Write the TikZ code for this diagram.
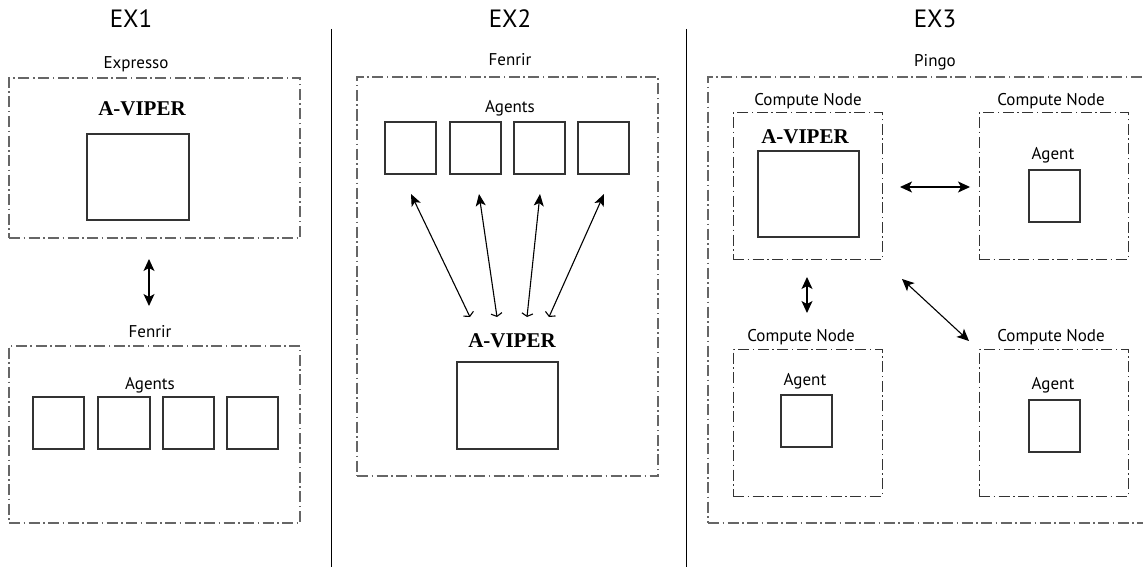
\documentclass[tikz,border=0pt]{standalone}
\usepackage{fontspec}
\setmainfont{Liberation Serif}
\newfontfamily\lblfont{PT Sans}
\usetikzlibrary{fit,arrows.meta}
\begin{document}
\begin{tikzpicture}[x=1pt,y=-1pt,
  outerbox/.style={draw=black!60, line width=1.1pt, dash pattern=on 11pt off 3.5pt on 1.5pt off 3.5pt, fit={#1}, inner sep=0pt},
  cnbox/.style={draw=black!80, line width=1pt, dash pattern=on 11pt off 3.5pt on 1.5pt off 3.5pt, fit={#1}, inner sep=0pt},
  sq/.style={draw=black!80, line width=1.1pt, fit={#1}, inner sep=0pt},
  ttl/.style={font=\lblfont\fontsize{25}{25}\selectfont, inner sep=0pt},
  lbl/.style={font=\lblfont\fontsize{17}{17}\selectfont, inner sep=0pt},
  viper/.style={font=\fontsize{21}{21}\selectfont\bfseries, inner sep=0pt},
  dbl/.style={line width=1.1pt, {Stealth[length=12pt,width=11pt,inset=3pt]}-{Stealth[length=12pt,width=11pt,inset=3pt]}},
  fan/.style={line width=1.1pt, {Stealth[length=12pt,width=10pt,inset=3pt]}-{Straight Barb[length=3pt,width=11pt]}},
  divider/.style={line width=0.9pt, draw=black}
]
\useasboundingbox (0,0) rectangle (1143,567);
\clip (0,0) rectangle (1143,567);
% dividers
\coordinate (d1t) at (331,29); \coordinate (d1b) at (331,567);
\coordinate (d2t) at (686,29); \coordinate (d2b) at (686,567);
\draw[divider] (d1t) -- (d1b);
\draw[divider] (d2t) -- (d2b);

% ---------- EX1 ----------
\node[ttl] (ex1) at (131,19) {EX1};
\node[lbl] (lexp) at (136,64) {Expresso};
\node[outerbox={(9,78) (300,238)}] (expresso) {};
\node[viper] (v1) at (142,109) {A-VIPER};
\node[sq={(87,134) (189,220)}] (v1box) {};
\coordinate (a1t) at (149,259);
\coordinate (a1b) at (149,306);
\draw[dbl] (a1t) -- (a1b);
\node[lbl] (lfen1) at (150,332) {Fenrir};
\node[outerbox={(9,346) (300,523)}] (fenrir1) {};
\node[lbl] (ag1) at (150,385) {Agents};
\node[sq={(33,397) (84,449)}] (f1a) {};
\node[sq={(98,397) (150,449)}] (f1b) {};
\node[sq={(163,397) (214,449)}] (f1c) {};
\node[sq={(227,397) (278,449)}] (f1d) {};

% ---------- EX2 ----------
\node[ttl] (ex2) at (510,19) {EX2};
\node[lbl] (lfen2) at (510,60) {Fenrir};
\node[outerbox={(357,77) (658,476)}] (fenrir2) {};
\node[lbl] (ag2) at (510,108) {Agents};
\node[sq={(385,122) (436,174)}] (f2a) {};
\node[sq={(450,122) (501,174)}] (f2b) {};
\node[sq={(514,122) (565,174)}] (f2c) {};
\node[sq={(578,122) (629,174)}] (f2d) {};
\coordinate (t1) at (411,194); \coordinate (b1) at (470,317);
\coordinate (t2) at (479,194); \coordinate (b2) at (497,317);
\coordinate (t3) at (540,194); \coordinate (b3) at (527,317);
\coordinate (t4) at (604,194); \coordinate (b4) at (549,317);
\draw[fan] (t1) -- (b1);
\draw[fan] (t2) -- (b2);
\draw[fan] (t3) -- (b3);
\draw[fan] (t4) -- (b4);
\node[viper] (v2) at (512,341) {A-VIPER};
\node[sq={(457,362) (558,449)}] (v2box) {};

% ---------- EX3 ----------
\node[ttl] (ex3) at (935,19) {EX3};
\node[lbl] (lpingo) at (935,62) {Pingo};
\node[outerbox={(708,77) (1160,523)}] (pingo) {};
% compute nodes
\node[lbl] (lcn1) at (808,101) {Compute Node};
\node[cnbox={(733,113) (882,259)}] (cn1) {};
\node[lbl] (lcn2) at (1051,101) {Compute Node};
\node[cnbox={(979,113) (1128,259)}] (cn2) {};
\node[lbl] (lcn3) at (801,337) {Compute Node};
\node[cnbox={(733,349) (882,496)}] (cn3) {};
\node[lbl] (lcn4) at (1051,337) {Compute Node};
\node[cnbox={(979,349) (1128,496)}] (cn4) {};
% contents
\node[viper] (v3) at (805,137) {A-VIPER};
\node[sq={(758,151) (859,237)}] (v3box) {};
\node[lbl] (ag3a) at (1053,155) {Agent};
\node[sq={(1029,170) (1080,222)}] (a3a) {};
\node[lbl] (ag3b) at (805,381) {Agent};
\node[sq={(781,395) (832,447)}] (a3b) {};
\node[lbl] (ag3c) at (1053,385) {Agent};
\node[sq={(1029,400) (1080,452)}] (a3c) {};
% arrows
\coordinate (h1) at (900,187); \coordinate (h2) at (970,187);
\draw[dbl] (h1) -- (h2);
\coordinate (v1t) at (807,277); \coordinate (v1b) at (807,313);
\draw[dbl] (v1t) -- (v1b);
\coordinate (dg1) at (902,279); \coordinate (dg2) at (969,341);
\draw[dbl] (dg1) -- (dg2);
\end{tikzpicture}
\end{document}
